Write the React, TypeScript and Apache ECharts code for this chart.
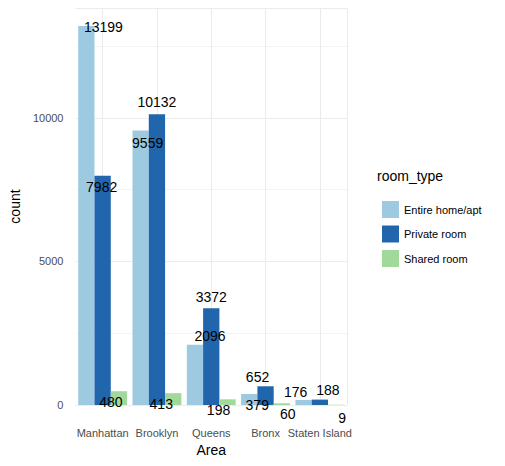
import React from 'react';
import * as echarts from 'echarts';

const areas = ['Manhattan', 'Brooklyn', 'Queens', 'Bronx', 'Staten Island'];
const roomTypes = ['Entire home/apt', 'Private room', 'Shared room'];
const entireHome = [13199, 9559, 2096, 379, 176];
const privateRoom = [7982, 10132, 3372, 652, 188];
const sharedRoom = [480, 413, 198, 60, 9];
const colors = ['#9ecae1', '#2166ac', '#a1d99b'];

// label offsets (px) from each bar's top centre, [series][category], copying the reference's shifted text
const labelOffsets = [
  [[17, 1], [7, 12], [15, -9], [8, 11], [-8, -8]],
  [[-1, 11], [0, -12], [0, -11], [-8, -9], [8, -10]],
  [[-8, 11], [-12, 11], [-9, 11], [6, 11], [6, 13]],
];

const App: React.FC = () => {
  const chartRef = React.useRef<HTMLDivElement>(null);

  React.useEffect(() => {
    if (!chartRef.current) return;
    const chart = echarts.init(chartRef.current, undefined, { renderer: 'svg' });
    const seriesData = [entireHome, privateRoom, sharedRoom];
    const axisText = { color: '#4d4d4d', fontSize: 11, fontFamily: 'Liberation Sans' };

    chart.setOption({
      animation: false,
      textStyle: { fontFamily: 'Liberation Sans' },
      grid: { left: 69, right: 158, top: 8, bottom: 61 },
      legend: {
        orient: 'vertical',
        left: 377,
        top: 196,
        itemWidth: 17,
        itemHeight: 17,
        itemGap: 7.5,
        icon: 'rect',
        data: roomTypes,
        textStyle: { fontSize: 11, color: '#000' },
      },
      graphic: [
        { type: 'text', left: 377, top: 169, style: { text: 'room_type', fontSize: 14, fill: '#000', fontFamily: 'Liberation Sans' } },
      ],
      xAxis: [
        {
          type: 'category',
          data: areas,
          name: 'Area',
          nameLocation: 'middle',
          nameGap: 27,
          nameTextStyle: { fontSize: 14, color: '#000' },
          axisLine: { show: false },
          axisTick: { show: false },
          axisLabel: { ...axisText, margin: 22, interval: 0 },
          splitLine: { show: false },
        },
        {
          type: 'category',
          data: areas.flatMap((a) => [a + 'L', a + 'R']),
          position: 'bottom',
          axisLine: { show: false },
          axisTick: { show: false },
          axisLabel: { show: false },
          splitLine: { show: true, interval: (i: number) => i % 2 === 1, lineStyle: { color: '#ebebeb' } },
        },
      ],
      yAxis: {
        type: 'value',
        name: 'count',
        nameLocation: 'middle',
        nameGap: 53,
        nameTextStyle: { fontSize: 14, color: '#000' },
        min: 0,
        max: 13830,
        interval: 5000,
        axisLabel: { ...axisText, margin: 12, showMaxLabel: false, formatter: (v: number) => String(v) },
        splitLine: { lineStyle: { color: '#ebebeb' } },
        minorTick: { show: false, splitNumber: 2 },
        minorSplitLine: { show: true, lineStyle: { color: '#f3f3f3' } },
      },
      series: seriesData.map((vals, s) => ({
        type: 'bar',
        name: roomTypes[s],
        xAxisIndex: 0,
        barGap: '0%',
        barCategoryGap: '10%',
        itemStyle: { color: colors[s] },
        data: vals.map((v, i) => ({
          value: v,
          label: {
            show: true,
            position: ['50%', 0],
            align: 'center',
            verticalAlign: 'middle',
            offset: labelOffsets[s][i],
            fontSize: 14,
            color: '#000',
            formatter: String(v),
          },
        })),
      })),
    });

    return () => chart.dispose();
  }, []);

  return <div ref={chartRef} style={{ width: 505, height: 466, margin: -8 }} />;
};

export default App;
